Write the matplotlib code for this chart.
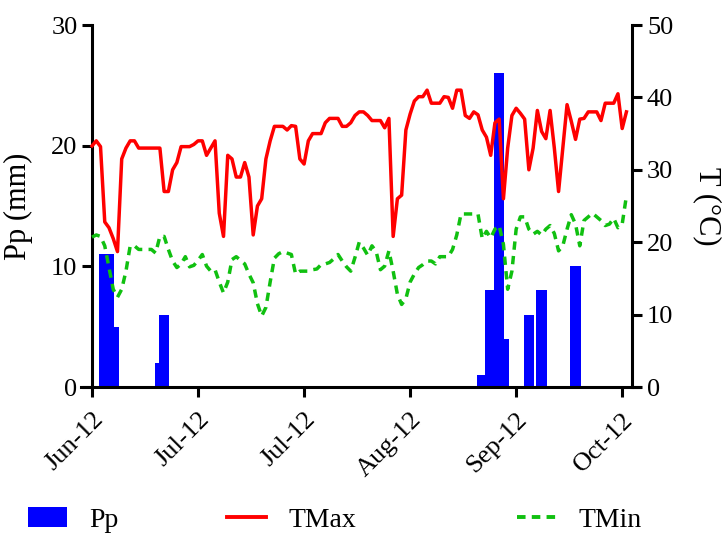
import numpy as np
import matplotlib
matplotlib.use('Agg')
import matplotlib.pyplot as plt
from matplotlib.patches import Patch
from matplotlib.lines import Line2D

# daily record, day 0 = first day of the series
tmax = [33.3, 34.0, 33.2, 22.8, 22.0, 20.5, 18.7, 31.5, 33.0, 34.0,
        34.0, 33.0, 33.0, 33.0, 33.0, 33.0, 33.0, 27.0, 27.0, 30.0,
        31.0, 33.2, 33.2, 33.2, 33.5, 34.0, 34.0, 32.0, 33.0, 34.0,
        24.0, 20.8, 32.0, 31.5, 29.0, 29.0, 31.0, 29.0, 21.0, 25.0,
        26.0, 31.5, 34.0, 36.0, 36.0, 36.0, 35.5, 36.1, 36.0, 31.5,
        30.8, 34.0, 35.0, 35.0, 35.0, 36.5, 37.1, 37.1, 37.1, 36.0,
        36.0, 36.5, 37.5, 38.0, 38.0, 37.5, 36.8, 36.8, 36.8, 35.8,
        37.1, 20.8, 26.0, 26.5, 35.5, 37.7, 39.5, 40.1, 40.1, 41.0,
        39.2, 39.2, 39.2, 40.1, 40.0, 38.5, 41.0, 41.0, 37.5, 37.1,
        38.0, 37.6, 35.5, 34.5, 32.0, 36.5, 37.0, 26.0, 33.0, 37.5,
        38.5, 37.8, 37.0, 30.0, 33.0, 38.2, 35.3, 34.3, 38.2, 33.0,
        27.0, 33.0, 39.0, 36.7, 34.2, 37.0, 37.1, 38.0, 38.0, 38.0,
        36.8, 39.2, 39.2, 39.2, 40.5, 35.7, 38.0]

tmin = [20.7, 21.0, 20.8, 19.5, 16.5, 13.5, 12.4, 13.5, 16.0, 19.5,
        19.5, 19.0, 19.0, 19.0, 19.0, 18.5, 20.8, 20.8, 19.0, 17.4,
        16.5, 17.0, 18.0, 16.6, 16.8, 17.5, 18.3, 16.7, 16.0, 16.2,
        14.5, 13.0, 14.5, 17.6, 18.0, 17.5, 17.0, 15.6, 14.4, 11.5,
        9.8, 11.0, 14.5, 17.8, 18.4, 18.7, 18.5, 18.3, 15.6, 16.0,
        16.0, 16.0, 16.2, 16.3, 16.9, 17.0, 17.2, 17.7, 18.3, 17.4,
        16.6, 16.0, 17.9, 20.0, 19.2, 18.2, 19.5, 18.7, 16.2, 16.7,
        18.8, 16.0, 12.8, 11.4, 12.2, 14.5, 15.6, 16.5, 16.9, 17.4,
        17.4, 17.0, 18.0, 18.0, 18.0, 19.0, 21.0, 23.9, 23.9, 23.9,
        23.9, 23.9, 20.5, 21.5, 20.6, 21.8, 22.3, 19.7, 13.5, 16.0,
        21.8, 23.5, 23.5, 21.8, 21.1, 21.5, 21.0, 21.8, 22.3, 21.2,
        18.8, 19.5, 21.8, 23.8, 22.5, 19.5, 23.0, 23.5, 24.0, 23.5,
        23.0, 22.3, 22.5, 23.3, 22.0, 22.5, 26.4]

# rain days and amounts (mm)
pp_days = [3, 4, 5, 16, 17, 92, 94, 96, 97, 103, 106, 114]
pp_mm = [11, 11, 5, 2, 6, 1, 8, 26, 4, 6, 8, 10]

tick_days = [0, 25, 50, 75, 100, 125]
tick_labels = ['Jun-12', 'Jul-12', 'Jul-12', 'Aug-12', 'Sep-12', 'Oct-12']

days = np.arange(len(tmax))

plt.rcParams['font.family'] = ['Liberation Serif', 'DejaVu Serif']

fig = plt.figure(figsize=(7.24, 5.33), dpi=100)
ax = fig.add_axes([81/724, 1-387/533, 559/724, 362/533])
ax2 = ax.twinx()

ax.bar(pp_days, pp_mm, width=2.5, color='#0000FF', linewidth=0)
ax2.plot(days, tmax, color='#FF0000', lw=2.5)
ax2.plot(days, tmin, color='#10C010', lw=2.5, linestyle=(0, (2.4, 1.8)))

ax.set_xlim(-2.6, 129.2)
ax.set_ylim(0, 30)
ax2.set_ylim(0, 50)
ax.set_yticks([0, 10, 20, 30])
ax2.set_yticks([0, 10, 20, 30, 40, 50])
ax.set_xticks(tick_days)
ax.set_xticklabels(tick_labels, rotation=45, ha='right', va='top',
                   rotation_mode='anchor')

for a in [ax, ax2]:
    a.spines['top'].set_visible(False)
    for s in a.spines.values():
        s.set_linewidth(2.2)
    a.tick_params(direction='out', length=7.5, width=2.2, labelsize=19, pad=3)
ax.spines['right'].set_visible(False)
ax2.spines['left'].set_visible(False)
ax2.spines['bottom'].set_visible(False)
ax.spines['left'].set_position(('data', 0))
ax2.spines['right'].set_position(('data', 127.4))
ax.tick_params(axis='x', pad=8)

ax.set_ylabel('Pp (mm)', fontsize=22)
ax.yaxis.set_label_coords(-0.086, 0.5)
ax2.set_ylabel('T (°C)', fontsize=22, rotation=270, va='center')
ax2.yaxis.set_label_coords(1.12, 0.5)

# legend, three entries spread across the bottom
entries = [
    (Patch(facecolor='#0000FF'), 'Pp', 28/724),
    (Line2D([], [], color='#FF0000', lw=2.8), 'TMax', 227/724),
    (Line2D([], [], color='#10C010', lw=2.8, linestyle=(0, (2.2, 1.6))), 'TMin', 517/724),
]
for handle, label, xpos in entries:
    fig.legend([handle], [label], loc='center left', bbox_to_anchor=(xpos, 0.024),
               frameon=False, fontsize=20, borderpad=0, borderaxespad=0,
               handlelength=1.4, handletextpad=0.8)

fig.savefig('out.png', dpi=100)
